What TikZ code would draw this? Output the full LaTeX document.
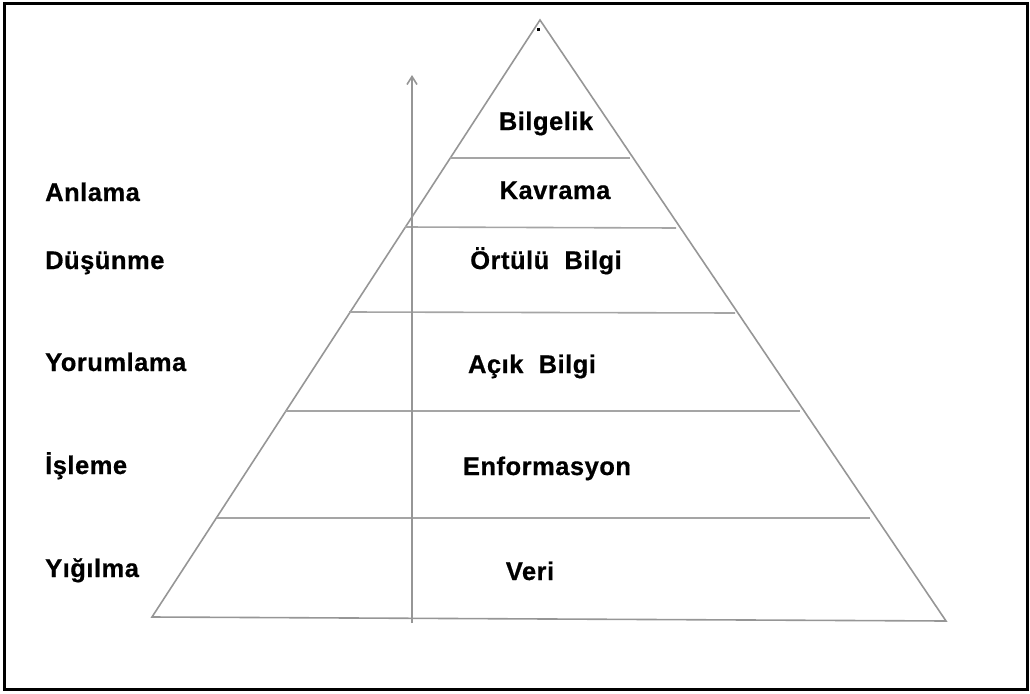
\documentclass[tikz,border=0pt]{standalone}
\usepackage{fontspec}
\usetikzlibrary{arrows.meta}
\newfontfamily\labelfont[LetterSpace=2,FakeBold=0.6]{Liberation Sans}
\definecolor{edgegray}{RGB}{150,150,150}
\definecolor{rulegray}{RGB}{165,165,165}
\tikzset{
  frame/.style={draw=black, line width=3pt},
  edge/.style={draw=edgegray, line width=1.6pt, line join=miter},
  rule/.style={draw=rulegray, line width=1.6pt},
  axis/.style={draw=edgegray, line width=1.6pt, -{Straight Barb[length=8pt,width=10pt]}},
  level/.style={font=\labelfont\bfseries\fontsize{25.5}{30}\selectfont, anchor=base, inner sep=0pt},
  stage/.style={font=\labelfont\bfseries\fontsize{25.5}{30}\selectfont, anchor=base west, inner sep=0pt}
}
\begin{document}
\begin{tikzpicture}[x=1pt, y=-1pt]
  \useasboundingbox (0,0) rectangle (1030,693);
  % outer frame
  \draw[frame] (4,4) rectangle (1027,689);

  % pyramid corners
  \coordinate (apex) at (540,20);
  \coordinate (baseL) at (152,617);
  \coordinate (baseR) at (946,621);
  \draw[edge] (baseL) -- (apex) -- (baseR) -- cycle;
  \fill (537,28) rectangle (540,31);

  % layer boundaries
  \coordinate (l1a) at (450,158); \coordinate (l1b) at (630,158);
  \coordinate (l2a) at (405,227); \coordinate (l2b) at (676,228);
  \coordinate (l3a) at (349,312); \coordinate (l3b) at (735,313);
  \coordinate (l4a) at (285,411); \coordinate (l4b) at (800,411);
  \coordinate (l5a) at (217,518); \coordinate (l5b) at (870,518);
  \draw[rule] (l1a) -- (l1b);
  \draw[rule] (l2a) -- (l2b);
  \draw[rule] (l3a) -- (l3b);
  \draw[rule] (l4a) -- (l4b);
  \draw[rule] (l5a) -- (l5b);

  % upward axis
  \coordinate (axisfoot) at (412,623);
  \coordinate (axistop) at (412,75);
  \draw[axis] (axisfoot) -- (axistop);

  % layer names
  \node[level] (bilgelik) at (546,130) {Bilgelik};
  \node[level] (kavrama) at (555,199) {Kavrama};
  \node[level] (ortulu) at (546,269) {Örtülü\ \ Bilgi};
  \node[level] (acik) at (532,373) {Açık\ \ Bilgi};
  \node[level] (enfo) at (547,475) {Enformasyon};
  \node[level] (veri) at (530,580) {Veri};

  % processes
  \node[stage] (anlama) at (45,201) {Anlama};
  \node[stage] (dusunme) at (45,269) {Düşünme};
  \node[stage] (yorum) at (45,371) {Yorumlama};
  \node[stage] (isleme) at (45,474) {İşleme};
  \node[stage] (yigilma) at (45,577) {Yığılma};
\end{tikzpicture}
\end{document}
